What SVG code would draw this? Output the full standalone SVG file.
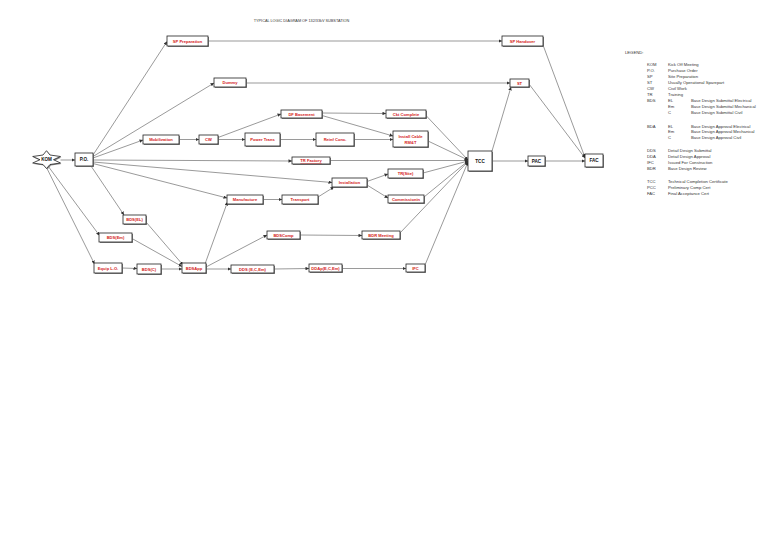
<svg xmlns="http://www.w3.org/2000/svg" width="768" height="543" viewBox="0 0 768 543">
<style>
.n rect.b{fill:#fff;stroke:#222;stroke-width:0.8}
.n rect.s{fill:#888}
.n text{font-family:"Liberation Sans",Arial,sans-serif;font-size:4.1px;font-weight:bold;fill:#d42020;text-anchor:middle}
.n text.k{fill:#111;font-weight:bold;font-size:4.6px}
.c line{stroke:#555;stroke-width:0.6;marker-end:url(#ah)}
.lg text{font-family:"Liberation Sans",Arial,sans-serif;font-size:4.2px;fill:#333}
.t{font-family:"Liberation Sans",Arial,sans-serif;font-size:3.8px;fill:#333}
</style>
<defs>
<marker id="ah" viewBox="0 0 6 6" refX="6" refY="3" markerWidth="3.5" markerHeight="3.5" markerUnits="userSpaceOnUse" orient="auto">
<path d="M0,0 L6,3 L0,6 z" fill="#333"/>
</marker>
</defs>
<rect width="768" height="543" fill="#fff"/>
<text class="t" x="301.5" y="22.3" text-anchor="middle">TYPICAL LOGIC DIAGRAM OF 132/33kV SUBSTATION</text>

<g class="c">
<line x1="60.5" y1="160" x2="75" y2="160"/>
<line x1="48" y1="166" x2="99.5" y2="235.5"/>
<line x1="46.5" y1="167.5" x2="94.5" y2="264"/>
<line x1="93" y1="155" x2="167" y2="41.5"/>
<line x1="93" y1="156.5" x2="214" y2="83"/>
<line x1="93" y1="158" x2="143" y2="140"/>
<line x1="93" y1="160" x2="292" y2="161"/>
<line x1="93" y1="162" x2="332" y2="182.5"/>
<line x1="93" y1="163.5" x2="227" y2="198"/>
<line x1="91" y1="166" x2="124" y2="215"/>
<line x1="179" y1="139.5" x2="199" y2="139.5"/>
<line x1="218" y1="137.5" x2="281" y2="114"/>
<line x1="218" y1="139.5" x2="245" y2="139.5"/>
<line x1="322" y1="113" x2="386" y2="113.5"/>
<line x1="322" y1="115.5" x2="393" y2="136"/>
<line x1="280" y1="139.5" x2="316" y2="139.5"/>
<line x1="354" y1="139.5" x2="393" y2="139.5"/>
<line x1="426" y1="115.5" x2="468" y2="160"/>
<line x1="428" y1="141" x2="468" y2="160"/>
<line x1="330" y1="160.5" x2="468" y2="160.5"/>
<line x1="423" y1="173" x2="468" y2="161"/>
<line x1="424" y1="197" x2="468" y2="161"/>
<line x1="400" y1="233" x2="468" y2="161.5"/>
<line x1="425" y1="265" x2="468" y2="162"/>
<line x1="492" y1="161" x2="528" y2="161"/>
<line x1="545" y1="161" x2="585" y2="161"/>
<line x1="492" y1="151" x2="511" y2="87"/>
<line x1="529" y1="84" x2="585" y2="158"/>
<line x1="543" y1="45" x2="585" y2="157.5"/>
<line x1="208" y1="41" x2="502" y2="41"/>
<line x1="246" y1="83" x2="510" y2="83"/>
<line x1="367" y1="181.5" x2="388" y2="174"/>
<line x1="367" y1="185" x2="388" y2="198"/>
<line x1="263" y1="199.5" x2="282" y2="199.5"/>
<line x1="318" y1="197" x2="334" y2="187"/>
<line x1="146" y1="222" x2="183" y2="265"/>
<line x1="132" y1="238.5" x2="182" y2="266.5"/>
<line x1="122" y1="268" x2="137" y2="268.5"/>
<line x1="161" y1="269" x2="182" y2="269"/>
<line x1="205" y1="264" x2="227.5" y2="202"/>
<line x1="206" y1="267" x2="267" y2="235"/>
<line x1="206" y1="269" x2="231" y2="269"/>
<line x1="300" y1="235" x2="362" y2="235.5"/>
<line x1="274" y1="269" x2="309" y2="268.5"/>
<line x1="342" y1="268.5" x2="406" y2="268.5"/>
</g>

<g id="kom" class="n">
<polygon points="47.5,151.7 51,156 61.5,157.5 54.5,160.7 61.5,164 51,165.5 47.5,169.5 44,165.5 33.7,164 41,160.7 33.7,157.5 44,156" fill="#888"/>
<polygon points="46.5,150.7 50,155 60.5,156.5 53.5,159.7 60.5,163 50,164.5 46.5,168.5 43,164.5 32.7,163 40,159.7 32.7,156.5 43,155" fill="#fff" stroke="#222" stroke-width="0.8"/>
<text class="k" x="46.5" y="161.3">KOM</text>
</g>
<g id="po" class="n"><rect class="s" x="76" y="154" width="18" height="13"/><rect class="b" x="75" y="153" width="18" height="13"/><text class="k" x="84" y="161.1">P.O.</text></g>
<g id="spprep" class="n"><rect class="s" x="168" y="37" width="41" height="10"/><rect class="b" x="167" y="36" width="41" height="10"/><text x="187.5" y="42.5">SP Preparation</text></g>
<g id="dummy" class="n"><rect class="s" x="215" y="79" width="32" height="9"/><rect class="b" x="214" y="78" width="32" height="9"/><text x="230" y="84">Dummy</text></g>
<g id="dfbase" class="n"><rect class="s" x="282" y="111" width="41" height="8"/><rect class="b" x="281" y="110" width="41" height="8"/><text x="301.5" y="115.5">DF Basement</text></g>
<g id="cktc" class="n"><rect class="s" x="387" y="111" width="40" height="8"/><rect class="b" x="386" y="110" width="40" height="8"/><text x="406" y="115.5">Ckt Complete</text></g>
<g id="mob" class="n"><rect class="s" x="144" y="136" width="36" height="9"/><rect class="b" x="143" y="135" width="36" height="9"/><text x="161" y="141">Mobilization</text></g>
<g id="cw" class="n"><rect class="s" x="200" y="136" width="19" height="9"/><rect class="b" x="199" y="135" width="19" height="9"/><text x="208.5" y="141">CW</text></g>
<g id="ptrans" class="n"><rect class="s" x="246" y="134" width="35" height="13"/><rect class="b" x="245" y="133" width="35" height="13"/><text x="262.5" y="141">Power Trans</text></g>
<g id="reinf" class="n"><rect class="s" x="317" y="134" width="38" height="13"/><rect class="b" x="316" y="133" width="38" height="13"/><text x="335" y="141">Reinf Conc.</text></g>
<g id="icable" class="n"><rect class="s" x="394" y="132" width="35" height="16"/><rect class="b" x="393" y="131" width="35" height="16"/><text x="410.5" y="138">Install Cable</text><text x="410.5" y="143.5">RM&amp;T</text></g>
<g id="trfac" class="n"><rect class="s" x="293" y="158" width="38" height="7"/><rect class="b" x="292" y="157" width="38" height="7"/><text x="311" y="162.2" text-decoration="underline">TR Factory</text></g>
<g id="tcc" class="n"><rect class="s" x="469" y="152" width="24" height="20"/><rect class="b" x="468" y="151" width="24" height="20"/><text class="k" x="480" y="162.6">TCC</text></g>
<g id="pac" class="n"><rect class="s" x="529" y="157" width="17" height="10"/><rect class="b" x="528" y="156" width="17" height="10"/><text class="k" x="536.5" y="162.6">PAC</text></g>
<g id="fac" class="n"><rect class="s" x="586" y="155" width="18" height="13"/><rect class="b" x="585" y="154" width="18" height="13"/><text class="k" x="594" y="162.1">FAC</text></g>
<g id="sphand" class="n"><rect class="s" x="503" y="37" width="41" height="10"/><rect class="b" x="502" y="36" width="41" height="10"/><text x="522.5" y="42.5">SP Handover</text></g>
<g id="st" class="n"><rect class="s" x="511" y="80" width="19" height="8"/><rect class="b" x="510" y="79" width="19" height="8"/><text x="519.5" y="84.5">ST</text></g>
<g id="trsite" class="n"><rect class="s" x="389" y="170" width="35" height="9"/><rect class="b" x="388" y="169" width="35" height="9"/><text x="405.5" y="175">TR(Site)</text></g>
<g id="inst" class="n"><rect class="s" x="333" y="179" width="35" height="9"/><rect class="b" x="332" y="178" width="35" height="9"/><text x="349.5" y="184">Installation</text></g>
<g id="comm" class="n"><rect class="s" x="389" y="196" width="36" height="8"/><rect class="b" x="388" y="195" width="36" height="8"/><text x="406" y="200.5">Commissionin</text></g>
<g id="manu" class="n"><rect class="s" x="228" y="196" width="36" height="9"/><rect class="b" x="227" y="195" width="36" height="9"/><text x="245" y="201">Manufacture</text></g>
<g id="trans" class="n"><rect class="s" x="283" y="196" width="36" height="9"/><rect class="b" x="282" y="195" width="36" height="9"/><text x="300" y="201">Transport</text></g>
<g id="bdsel" class="n"><rect class="s" x="124" y="216" width="23" height="9"/><rect class="b" x="123" y="215" width="23" height="9"/><text x="134.5" y="221">BDS(EL)</text></g>
<g id="bdsem" class="n"><rect class="s" x="100" y="234" width="33" height="9"/><rect class="b" x="99" y="233" width="33" height="9"/><text x="115.5" y="239">BDS(Em)</text></g>
<g id="bdscomp" class="n"><rect class="s" x="268" y="232" width="33" height="8"/><rect class="b" x="267" y="231" width="33" height="8"/><text x="283.5" y="236.5">BDSComp</text></g>
<g id="bdr" class="n"><rect class="s" x="363" y="232" width="38" height="8"/><rect class="b" x="362" y="231" width="38" height="8"/><text x="381" y="236.5">BDR Meeting</text></g>
<g id="eqlo" class="n"><rect class="s" x="95" y="264" width="28" height="10"/><rect class="b" x="94" y="263" width="28" height="10"/><text x="108" y="269.5">Equip L.O.</text></g>
<g id="bdsc" class="n"><rect class="s" x="138" y="265" width="24" height="10"/><rect class="b" x="137" y="264" width="24" height="10"/><text x="149" y="270.5">BDS(C)</text></g>
<g id="bdsapp" class="n"><rect class="s" x="183" y="264" width="24" height="10"/><rect class="b" x="182" y="263" width="24" height="10"/><text x="194" y="269.5">BDSApp</text></g>
<g id="dds" class="n"><rect class="s" x="232" y="266" width="43" height="8"/><rect class="b" x="231" y="265" width="43" height="8"/><text x="252.5" y="270.5">DDS (E,C,Em)</text></g>
<g id="ddap" class="n"><rect class="s" x="310" y="265" width="33" height="8"/><rect class="b" x="309" y="264" width="33" height="8"/><text x="325.5" y="269.5">DDAp(E,C,Em)</text></g>
<g id="ifc" class="n"><rect class="s" x="407" y="265" width="19" height="8"/><rect class="b" x="406" y="264" width="19" height="8"/><text x="415.5" y="269.5">IFC</text></g>

<g id="legend" class="lg">
<text x="625" y="53.5">LEGEND:</text>
<text x="647" y="65.5">KOM</text><text x="668" y="65.5">Kick Off Meeting</text>
<text x="647" y="71.5">P.O.</text><text x="668" y="71.5">Purchase Order</text>
<text x="647" y="77.5">SP</text><text x="668" y="77.5">Site Preparation</text>
<text x="647" y="83.5">ST</text><text x="668" y="83.5">Usually Operational Sparepart</text>
<text x="647" y="89.5">CW</text><text x="668" y="89.5">Civil Work</text>
<text x="647" y="95.5">TR</text><text x="668" y="95.5">Training</text>
<text x="647" y="101.5">BDS</text><text x="668" y="101.5">EL</text><text x="691" y="101.5">Base Design Submittal Electrical</text>
<text x="668" y="107.5">Em</text><text x="691" y="107.5">Base Design Submittal Mechanical</text>
<text x="668" y="113.5">C</text><text x="691" y="113.5">Base Design Submittal Civil</text>
<text x="647" y="127.5">BDA</text><text x="668" y="127.5">EL</text><text x="691" y="127.5">Base Design Approval Electrical</text>
<text x="668" y="133.2">Em</text><text x="691" y="133.2">Base Design Approval Mechanical</text>
<text x="668" y="138.8">C</text><text x="691" y="138.8">Base Design Approval Civil</text>
<text x="647" y="151.5">DDS</text><text x="668" y="151.5">Detail Design Submittal</text>
<text x="647" y="157.5">DDA</text><text x="668" y="157.5">Detail Design Approval</text>
<text x="647" y="163.5">IFC</text><text x="668" y="163.5">Issued For Construction</text>
<text x="647" y="169.5">BDR</text><text x="668" y="169.5">Base Design Review</text>
<text x="647" y="182.5">TCC</text><text x="668" y="182.5">Technical Completion Certificate</text>
<text x="647" y="188.5">PCC</text><text x="668" y="188.5">Preliminary Comp Cert</text>
<text x="647" y="194.5">FAC</text><text x="668" y="194.5">Final Acceptance Cert</text>
</g>
</svg>
